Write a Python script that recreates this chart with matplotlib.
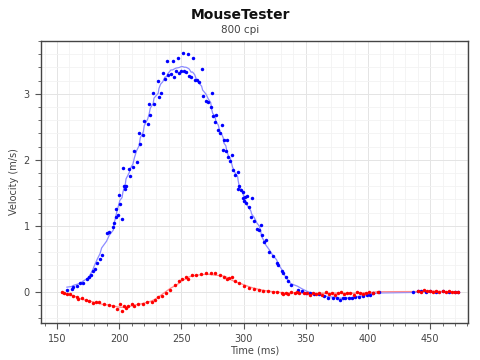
import numpy as np
import pandas as pd
import matplotlib
matplotlib.use("Agg")
import matplotlib.pyplot as plt
from matplotlib.ticker import MultipleLocator

# --- data (time in ms, velocity in m/s) ---
blue_t = [158.0, 161.8, 163.0, 165.8, 168.7, 170.9, 173.9, 176.0, 177.3, 178.7,
          180.5, 182.4, 184.6, 185.9, 189.9, 192.0, 195.3, 196.0, 197.2, 197.4,
          198.8, 199.8, 200.6, 202.3, 203.0, 203.9, 204.9, 205.5, 208.1, 208.9,
          211.1, 212.2, 214.0, 216.0, 217.0, 219.4, 220.2, 222.9, 224.2, 225.0,
          227.4, 228.0, 231.4, 232.0, 233.4, 235.0, 236.8, 238.2, 239.0, 241.6,
          243.0, 244.3, 245.7, 247.3, 248.3, 249.7, 251.0, 252.3, 253.7, 255.0,
          256.3, 257.9, 259.0, 260.7, 262.3, 263.9, 266.3, 267.1, 269.8, 271.6,
          273.6, 274.4, 275.2, 277.0, 277.8, 279.7, 281.0, 282.4, 283.7, 284.2,
          285.8, 286.4, 287.7, 289.1, 290.4, 291.2, 293.1, 295.3, 295.7, 296.5,
          297.9, 299.3, 299.8, 300.3, 301.1, 301.9, 302.5, 304.3, 305.9, 306.5,
          308.6, 310.5, 312.6, 313.7, 314.5, 316.6, 318.0, 320.7, 323.4, 326.6,
          327.9, 330.6, 332.0, 334.1, 336.0, 338.1, 343.5, 346.7, 350.0, 353.4,
          357.0, 361.0, 364.5, 368.0, 372.0, 375.0, 377.5, 380.0, 382.0, 385.0,
          387.0, 390.0, 392.6, 396.0, 399.0, 401.5, 404.0, 409.0, 436.0, 440.0,
          443.0, 447.0, 450.0, 455.0, 460.0, 465.0, 470.0, 472.5]
blue_v = [0.03, 0.04, 0.07, 0.09, 0.13, 0.13, 0.19, 0.23, 0.26, 0.32,
          0.35, 0.44, 0.50, 0.56, 0.89, 0.91, 0.98, 1.04, 1.25, 1.14,
          1.16, 1.47, 1.33, 1.11, 1.87, 1.60, 1.56, 1.61, 1.86, 1.76,
          1.89, 2.14, 1.97, 2.41, 2.24, 2.37, 2.59, 2.55, 2.85, 2.68,
          3.01, 2.84, 3.20, 2.95, 3.02, 3.31, 3.22, 3.50, 3.29, 3.30,
          3.50, 3.25, 3.34, 3.55, 3.31, 3.35, 3.62, 3.34, 3.33, 3.61,
          3.27, 3.26, 3.54, 3.21, 3.21, 3.18, 3.37, 2.97, 2.89, 2.88,
          2.80, 3.01, 2.66, 2.57, 2.68, 2.45, 2.40, 2.53, 2.15, 2.30,
          2.14, 2.30, 2.05, 1.98, 2.07, 1.85, 1.77, 1.81, 1.56, 1.61,
          1.55, 1.52, 1.42, 1.37, 1.43, 1.34, 1.45, 1.28, 1.14, 1.42,
          1.08, 0.96, 0.94, 1.02, 0.86, 0.76, 0.79, 0.60, 0.55, 0.44,
          0.41, 0.32, 0.29, 0.22, 0.16, 0.11, 0.03, 0.02, -0.01, -0.02,
          -0.03, -0.03, -0.06, -0.09, -0.10, -0.09, -0.12, -0.10, -0.10, -0.09,
          -0.10, -0.07, -0.08, -0.06, -0.05, -0.04, -0.02, 0.00, 0.00, 0.01,
          0.01, 0.00, 0.01, 0.00, 0.01, 0.00, 0.00, 0.00]

red_t = [153.8, 155.6, 157.8, 160.5, 163.1, 165.8, 167.1, 169.8, 173.3, 176.0,
         178.7, 181.1, 184.0, 188.0, 192.0, 195.3, 198.0, 200.6, 202.5, 203.9,
         205.5, 207.3, 210.0, 211.9, 215.4, 218.9, 222.1, 226.1, 228.8, 231.4,
         234.2, 237.6, 240.8, 244.9, 248.1, 250.2, 253.7, 255.5, 258.3, 261.7,
         265.8, 269.8, 273.8, 277.0, 281.0, 284.5, 286.4, 288.5, 290.4, 293.1,
         296.5, 300.6, 304.6, 308.6, 312.6, 315.9, 319.9, 323.9, 327.3, 330.6,
         332.0, 334.0, 335.7, 337.9, 341.0, 343.0, 345.0, 348.5, 351.0, 353.5,
         356.0, 358.5, 361.0, 363.5, 366.0, 368.5, 371.0, 373.5, 376.0, 378.5,
         381.0, 383.5, 386.0, 388.5, 391.0, 393.5, 396.0, 398.5, 401.0, 404.0,
         408.0, 440.0, 442.5, 445.0, 447.5, 450.0, 452.5, 455.0, 457.5, 460.0,
         462.5, 465.0, 467.5, 470.0, 472.5]
red_v = [0.00, -0.02, -0.03, -0.03, -0.06, -0.07, -0.11, -0.10, -0.13, -0.14,
         -0.17, -0.16, -0.16, -0.19, -0.20, -0.22, -0.26, -0.19, -0.29, -0.22,
         -0.25, -0.21, -0.19, -0.22, -0.19, -0.19, -0.16, -0.16, -0.12, -0.08,
         -0.06, -0.01, 0.03, 0.11, 0.17, 0.19, 0.22, 0.20, 0.25, 0.26,
         0.27, 0.28, 0.28, 0.28, 0.25, 0.22, 0.20, 0.21, 0.23, 0.17,
         0.13, 0.09, 0.06, 0.04, 0.03, 0.02, 0.02, 0.00, 0.00, -0.02,
         -0.03, -0.01, -0.03, 0.00, -0.02, 0.00, -0.01, -0.02, -0.02, -0.04,
         -0.01, -0.03, -0.02, -0.04, 0.00, -0.03, -0.01, -0.04, -0.02, 0.00,
         -0.03, -0.01, -0.02, -0.04, 0.00, -0.02, -0.03, -0.01, 0.00, -0.02,
         0.00, 0.02, 0.00, 0.03, 0.01, 0.02, 0.00, 0.02, 0.00, 0.01,
         0.00, 0.01, 0.00, 0.00, 0.00]

fig = plt.figure(figsize=(4.8, 3.6), dpi=100)
ax = fig.add_axes([0.085, 0.103, 0.89, 0.783])

# smoothed trend lines behind the points
blue_s = pd.Series(blue_v).rolling(9, center=True, min_periods=1).mean()
red_s = pd.Series(red_v).rolling(7, center=True, min_periods=1).mean()
ax.plot(blue_t, blue_s, color='#8c8cff', lw=0.9, zorder=2)
ax.plot(red_t, red_s, color='#ff8c8c', lw=0.9, zorder=2)

ax.plot(blue_t, blue_v, 'o', color='blue', ms=2.5, mew=0, zorder=3)
ax.plot(red_t, red_v, 'o', color='red', ms=2.5, mew=0, zorder=3)

ax.set_xlim(137, 480.5)
ax.set_ylim(-0.47, 3.8)
ax.xaxis.set_major_locator(MultipleLocator(50))
ax.xaxis.set_minor_locator(MultipleLocator(10))
ax.yaxis.set_major_locator(MultipleLocator(1))
ax.yaxis.set_minor_locator(MultipleLocator(0.2))

ax.grid(which='major', color='#e4e4e4', lw=0.7)
ax.grid(which='minor', color='#f2f2f2', lw=0.6)
ax.set_axisbelow(True)

for s in ax.spines.values():
    s.set_color('#444444')
    s.set_linewidth(1.0)
ax.tick_params(which='both', direction='out', colors='#555555', labelsize=7,
               labelcolor='#444444')
ax.tick_params(which='major', length=4, pad=4)
ax.tick_params(which='minor', length=2.5)

ax.set_xlabel("Time (ms)", fontsize=7, color='#444444', labelpad=1)
ax.set_ylabel("Velocity (m/s)", fontsize=7, color='#444444', labelpad=3)

fig.text(0.5, 0.958, "MouseTester", ha='center', va='center',
         fontsize=10, fontweight='bold', color='#111111')
fig.text(0.5, 0.918, "800 cpi", ha='center', va='center',
         fontsize=7.5, color='#444444')

fig.savefig("out.png", dpi=100)
